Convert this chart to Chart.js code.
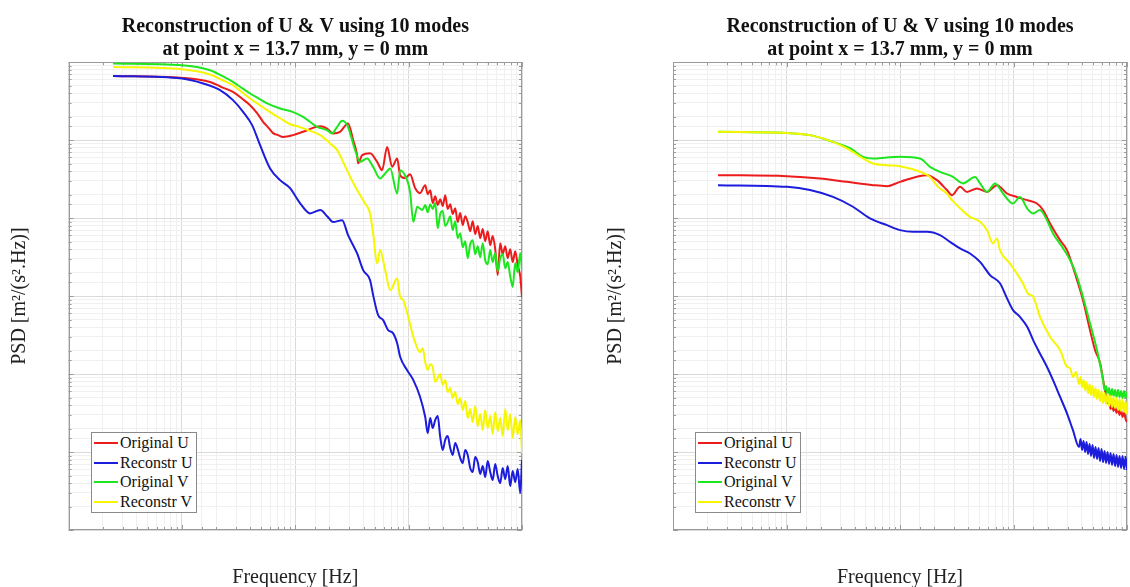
<!DOCTYPE html>
<html>
<head>
<meta charset="utf-8">
<script src="https://cdn.jsdelivr.net/npm/chart.js@4.4.0/dist/chart.umd.min.js"></script>
<style>
  html, body { margin: 0; padding: 0; background: #fff; }
  body { width: 1130px; height: 587px; position: relative; overflow: hidden; font-family: "Liberation Serif", "Times New Roman", serif; }
  canvas { position: absolute; top: 0; }
  #left-chart { left: 0; }
  #right-chart { left: 590px; }
  .legend { position: absolute; top: 432px; background: #fff; border: 1px solid #8a8a8a; padding: 0 4px 0 2px; font-size: 16px; line-height: 19.7px; color: #111; }
  .legend .row { display: flex; align-items: center; white-space: nowrap; }
  .legend .swatch { width: 24px; height: 2px; margin-right: 2px; }
</style>
</head>
<body>
<canvas id="left-chart" width="540" height="587"></canvas>
<canvas id="right-chart" width="540" height="587"></canvas>
<div class="legend" id="left-legend" style="left: 91px"></div>
<div class="legend" id="right-legend" style="left: 695px"></div>
<script>
// ---- Left panel ----
// frequencies where the high-frequency noise was read off
const leftNoiseFreq = [1400, 1473, 1550, 1630, 1715, 1805, 1899, 1998, 2102, 2211, 2326, 2448, 2575, 2709, 2850, 2999, 3155, 3319, 3492, 3674, 3866, 4067, 4279, 4502, 4736, 4983, 5243, 5516, 5803, 6105, 6423, 6758, 7110, 7480, 7870, 8280, 8711, 9165, 9642, 10000]

const leftFreqOrigU = [2.47, 10.0, 17.7, 22.4, 28.2, 34.0, 39.9, 46.0, 52.0, 57.8, 63.7, 70.5, 78.0, 95.7, 117, 166, 191, 216, 248, 292, 324, 351, 358, 389, 457, 527, 583, 646, 715, 792, 841, 931, 1030, 1140, 1260, ...leftNoiseFreq]
const leftPsdOrigU = [6.67e-4, 6.29e-4, 5.58e-4, 4.80e-4, 4.16e-4, 3.40e-4, 2.81e-4, 2.22e-4, 1.72e-4, 1.45e-4, 1.23e-4, 1.16e-4, 1.10e-4, 1.16e-4, 1.28e-4, 1.51e-4, 1.41e-4, 1.22e-4, 1.28e-4, 1.64e-4, 1.00e-4, 6.43e-5, 5.07e-5, 6.43e-5, 6.81e-5, 5.27e-5, 4.12e-5, 8.20e-5, 4.55e-5, 5.82e-5, 3.56e-5, 3.26e-5, 3.66e-5, 2.43e-5, 2.09e-5,
  2.65e-5, 2.03e-5, 2.28e-5, 1.56e-5, 1.91e-5, 1.47e-5, 1.75e-5, 1.43e-5, 1.97e-5, 1.31e-5, 1.51e-5, 1.13e-5, 1.34e-5, 8.89e-6, 1.16e-5, 8.14e-6, 1.06e-5, 8.89e-6, 6.81e-6, 9.15e-6, 6.24e-6, 7.90e-6, 5.54e-6, 7.23e-6, 5.07e-6, 6.81e-6, 4.50e-6, 5.88e-6, 4.00e-6, 1.86e-6, 4.78e-6, 3.45e-6, 4.37e-6, 3.07e-6, 4.00e-6, 2.73e-6, 3.77e-6, 2.50e-6, 1.80e-6, 9.71e-7]

const leftFreqReconU = [2.47, 10.0, 15.4, 21.7, 28.2, 34.6, 41.6, 48.9, 59.9, 73.4, 89.9, 110, 135, 166, 191, 216, 259, 292, 351, 397, 457, 486, 538, 596, 659, 730, 792, 841, 970, 1100, 1260, ...leftNoiseFreq]
const leftPsdReconU = [6.67e-4, 6.18e-4, 5.33e-4, 4.38e-4, 3.26e-4, 2.31e-4, 1.56e-4, 8.63e-5, 4.34e-5, 3.07e-5, 2.43e-5, 1.56e-5, 1.15e-5, 1.27e-5, 1.06e-5, 8.89e-6, 9.42e-6, 6.05e-6, 3.52e-6, 2.15e-6, 1.60e-6, 1.03e-6, 5.70e-7, 4.92e-7, 3.66e-7, 3.33e-7, 2.48e-7, 1.67e-7, 1.12e-7, 8.37e-8, 5.12e-8,
  2.81e-8, 1.75e-8, 2.73e-8, 2.03e-8, 2.57e-8, 2.89e-8, 1.56e-8, 1.06e-8, 1.43e-8, 1.60e-8, 1.13e-8, 9.15e-9, 1.31e-8, 1.09e-8, 8.38e-9, 7.23e-9, 1.06e-8, 9.15e-9, 6.24e-9, 5.54e-9, 8.63e-9, 7.44e-9, 5.22e-9, 6.61e-9, 4.78e-9, 7.67e-9, 5.54e-9, 4.37e-9, 7.02e-9, 4.92e-9, 4.00e-9, 6.24e-9, 4.50e-9, 6.61e-9, 3.66e-9, 5.71e-9, 4.12e-9, 6.05e-9, 2.98e-9, 7.90e-9]

const leftFreqOrigV = [2.47, 10.0, 17.7, 22.4, 28.2, 33.5, 39.9, 47.0, 56.4, 73.4, 95.7, 117, 156, 191, 211, 234, 259, 287, 305, 337, 373, 430, 486, 560, 621, 687, 792, 841, 970, 1030, 1100, 1190, 1320, ...leftNoiseFreq]
const leftPsdOrigV = [9.62e-4, 9.16e-4, 7.89e-4, 6.71e-4, 5.58e-4, 4.70e-4, 3.97e-4, 3.45e-4, 2.96e-4, 2.55e-4, 2.29e-4, 1.99e-4, 1.48e-4, 1.34e-4, 1.22e-4, 1.48e-4, 1.77e-4, 1.56e-4, 1.22e-4, 7.45e-5, 5.27e-5, 5.82e-5, 4.55e-5, 3.23e-5, 3.74e-5, 4.34e-5, 2.07e-5, 4.12e-5, 3.07e-5, 2.15e-5, 8.97e-6, 1.40e-5, 1.27e-5,
  1.47e-5, 1.19e-5, 1.51e-5, 1.31e-5, 1.56e-5, 7.44e-6, 1.13e-5, 1.23e-5, 7.90e-6, 8.89e-6, 1.06e-5, 7.02e-6, 9.15e-6, 5.54e-6, 6.42e-6, 4.24e-6, 5.07e-6, 3.07e-6, 4.64e-6, 5.22e-6, 3.45e-6, 4.37e-6, 3.16e-6, 4.78e-6, 2.89e-6, 2.57e-6, 3.89e-6, 2.73e-6, 3.56e-6, 2.09e-6, 3.07e-6, 3.45e-6, 2.28e-6, 2.73e-6, 1.80e-6, 1.31e-6, 2.65e-6, 2.03e-6, 3.56e-6, 2.15e-6]

const leftFreqReconV = [2.47, 10.0, 17.7, 22.4, 28.2, 33.5, 39.9, 47.0, 56.4, 73.4, 89.9, 110, 127, 166, 203, 234, 264, 305, 351, 413, 457, 486, 527, 560, 621, 687, 792, 841, 894, 991, 1100, 1260, 1330, ...leftNoiseFreq]
const leftPsdReconV = [8.71e-4, 8.13e-4, 6.95e-4, 5.95e-4, 5.07e-4, 4.18e-4, 3.43e-4, 2.91e-4, 2.43e-4, 1.91e-4, 1.60e-4, 1.47e-4, 1.36e-4, 1.16e-4, 9.08e-5, 7.45e-5, 5.27e-5, 3.38e-5, 2.29e-5, 1.54e-5, 1.15e-5, 6.37e-6, 2.62e-6, 3.89e-6, 2.15e-6, 1.19e-6, 1.69e-6, 9.80e-7, 8.89e-7, 5.43e-7, 3.01e-7, 1.91e-7, 2.15e-7,
  1.43e-7, 1.13e-7, 1.34e-7, 1.23e-7, 7.90e-8, 8.89e-8, 1.00e-7, 7.23e-8, 8.38e-8, 5.88e-8, 6.61e-8, 4.92e-8, 5.88e-8, 4.12e-8, 4.92e-8, 3.45e-8, 4.50e-8, 2.73e-8, 3.56e-8, 2.42e-8, 3.89e-8, 2.15e-8, 3.07e-8, 1.91e-8, 3.45e-8, 2.03e-8, 2.89e-8, 1.70e-8, 3.26e-8, 1.86e-8, 2.73e-8, 1.60e-8, 3.56e-8, 1.91e-8, 3.07e-8, 1.51e-8, 2.81e-8, 1.70e-8, 2.57e-8, 9.71e-9]

// ---- Right panel ----
// frequencies of the thick noisy band at the end of the curves
const rightBandFreq = [3780, 3897, 4017, 4141, 4269, 4401, 4537, 4678, 4822, 4971, 5125, 5283, 5447, 5615, 5788, 5967, 6152, 6342, 6538, 6740, 6949, 7163, 7385, 7613, 7848, 8091, 8341, 8599, 8865, 9139, 9421, 9712, 10000]

const rightFreqOrigU = [2.49, 10.1, 19.7, 34.1, 57.8, 76.8, 100, 173, 212, 259, 287, 338, 389, 477, 584, 716, 877, 1070, 1320, 1610, 1820, 2100, 2570, 2960, 3630, 4090, 4720, 5230, 5788, 6342, 6538, 6740, 6949, 7163, 7385, 7613, 7848, 8091, 8341, 8599, 8865, 9139, 9421, 9712, 10000]
const rightPsdOrigU = [3.56e-5, 3.45e-5, 3.23e-5, 2.92e-5, 2.65e-5, 2.57e-5, 2.92e-5, 3.56e-5, 3.07e-5, 2.29e-5, 1.97e-5, 2.52e-5, 2.17e-5, 2.40e-5, 2.17e-5, 2.65e-5, 2.07e-5, 1.87e-5, 1.70e-5, 1.54e-5, 1.27e-5, 8.55e-6, 5.22e-6, 3.89e-6, 1.60e-6, 8.89e-7, 3.66e-7, 2.03e-7, 1.39e-7,
  6.61e-8, 5.22e-8, 4.24e-8, 4.64e-8, 3.56e-8, 4.12e-8, 3.35e-8, 3.89e-8, 3.16e-8, 3.66e-8, 2.98e-8, 3.45e-8, 2.81e-8, 3.26e-8, 2.65e-8, 2.42e-8]

const rightFreqReconU = [2.49, 10.1, 16.1, 25.7, 38.5, 54.4, 76.8, 100, 130, 173, 225, 276, 338, 414, 507, 621, 760, 877, 990, 1140, 1320, 1490, 1710, 1970, 2230, 2570, 2960, 3340, ...rightBandFreq]
const rightPsdReconU = [2.65e-5, 2.52e-5, 2.29e-5, 1.87e-5, 1.40e-5, 9.91e-6, 8.13e-6, 7.02e-6, 6.67e-6, 6.67e-6, 6.05e-6, 4.97e-6, 4.09e-6, 3.52e-6, 2.75e-6, 1.86e-6, 1.46e-6, 9.35e-7, 6.62e-7, 5.43e-7, 4.04e-7, 2.73e-7, 1.84e-7, 1.24e-7, 8.37e-8, 5.12e-8, 3.13e-8, 1.91e-8,
  1.16e-8, 1.47e-8, 1.06e-8, 1.39e-8, 1.00e-8, 1.34e-8, 9.43e-9, 1.27e-8, 8.89e-9, 1.23e-8, 8.38e-9, 1.16e-8, 8.14e-9, 1.13e-8, 7.67e-9, 1.09e-8, 7.44e-9, 1.03e-8, 7.23e-9, 1.00e-8, 7.02e-9, 9.71e-9, 6.81e-9, 9.43e-9, 6.61e-9, 9.15e-9, 6.42e-9, 8.89e-9, 6.24e-9, 8.89e-9, 6.05e-9, 8.63e-9, 5.88e-9]

const rightFreqOrigV = [2.49, 10.1, 16.1, 25.7, 36.3, 47.2, 57.8, 76.8, 100, 150, 184, 225, 293, 359, 458, 507, 584, 687, 808, 990, 1140, 1320, 1490, 1710, 1970, 2230, 2680, 3150, 3630, 4090, 4720, 5440, 6152, 6342, 6538, 6740, 6949, 7163, 7385, 7613, 7848, 8091, 8341, 8599, 8865, 9139, 9421, 9712, 10000]
const rightPsdOrigV = [1.28e-4, 1.24e-4, 1.16e-4, 9.50e-5, 7.89e-5, 6.11e-5, 5.82e-5, 6.00e-5, 6.11e-5, 5.82e-5, 4.55e-5, 3.93e-5, 3.38e-5, 2.79e-5, 3.38e-5, 2.79e-5, 2.17e-5, 2.79e-5, 2.07e-5, 1.54e-5, 1.87e-5, 1.33e-5, 1.15e-5, 1.27e-5, 9.42e-6, 6.37e-6, 4.29e-6, 2.90e-6, 1.77e-6, 9.80e-7, 4.47e-7, 2.03e-7,
  8.38e-8, 6.24e-8, 7.02e-8, 5.54e-8, 6.61e-8, 5.22e-8, 6.42e-8, 5.22e-8, 6.24e-8, 5.07e-8, 6.24e-8, 5.07e-8, 6.05e-8, 4.92e-8, 6.05e-8, 4.92e-8, 5.88e-8]

const rightFreqReconV = [2.49, 10.1, 16.1, 25.7, 36.3, 47.2, 57.8, 76.8, 100, 150, 184, 216, 259, 287, 352, 414, 507, 584, 659, 716, 760, 931, 1070, 1210, 1340, 1490, 1710, 2100, 2570, 2960, 3150, 3340, 3560, ...rightBandFreq]
const rightPsdReconV = [1.28e-4, 1.24e-4, 1.16e-4, 9.50e-5, 7.45e-5, 5.82e-5, 5.02e-5, 4.77e-5, 4.64e-5, 3.93e-5, 3.38e-5, 2.52e-5, 2.07e-5, 1.70e-5, 1.27e-5, 1.04e-5, 8.97e-6, 7.02e-6, 4.74e-6, 5.50e-6, 3.89e-6, 2.62e-6, 1.95e-6, 1.46e-6, 1.08e-6, 9.80e-7, 5.43e-7, 3.01e-7, 2.03e-7, 1.24e-7, 1.19e-7, 9.15e-8, 1.06e-7,
  7.44e-8, 9.15e-8, 6.81e-8, 8.38e-8, 6.24e-8, 7.90e-8, 5.71e-8, 7.44e-8, 5.38e-8, 7.02e-8, 5.07e-8, 6.61e-8, 4.78e-8, 6.24e-8, 4.50e-8, 6.05e-8, 4.24e-8, 5.71e-8, 4.12e-8, 5.54e-8, 3.89e-8, 5.22e-8, 3.77e-8, 5.07e-8, 3.66e-8, 4.92e-8, 3.45e-8, 4.78e-8, 3.35e-8, 4.64e-8, 3.26e-8, 4.50e-8, 3.07e-8]

// Axis ranges (the picture has no tick labels)
const freqRange = [1, 10000]
const psdRange = [1e-9, 1e-3]

const seriesLabels = ["Original U", "Reconstr U", "Original V", "Reconstr V"]
const seriesColors = ["#ec1c1c", "#1c1cdc", "#1ee61e", "#f6f600"]
const titleLines = ["Reconstruction of U & V using 10 modes", "at point x = 13.7 mm, y = 0 mm"]

const SERIF = '"Liberation Serif", "Times New Roman", serif'

const isDecade = (v) => Math.abs(Math.log10(v) - Math.round(Math.log10(v))) < 1e-6

const gridColor = (ctx) => {
  if (!ctx.tick) return "#e4e4e4"
  return isDecade(ctx.tick.value) ? "#dadada" : "#f0f0f0"
}

// Box round the plot area plus small inward ticks, like Matlab axes
const axesBox = {
  id: "axesBox",
  beforeDatasetsDraw(chart) {
    const { ctx, chartArea: a, scales } = chart
    ctx.save()
    ctx.strokeStyle = "#9a9a9a"
    ctx.lineWidth = 1
    ctx.beginPath()
    scales.x.ticks.forEach((t) => {
      const px = Math.round(scales.x.getPixelForValue(t.value)) + 0.5
      const len = isDecade(t.value) ? 5 : 3
      ctx.moveTo(px, a.bottom)
      ctx.lineTo(px, a.bottom - len)
      ctx.moveTo(px, a.top)
      ctx.lineTo(px, a.top + len)
    })
    scales.y.ticks.forEach((t) => {
      const py = Math.round(scales.y.getPixelForValue(t.value)) + 0.5
      const len = isDecade(t.value) ? 5 : 3
      ctx.moveTo(a.left, py)
      ctx.lineTo(a.left + len, py)
      ctx.moveTo(a.right, py)
      ctx.lineTo(a.right - len, py)
    })
    ctx.stroke()
    ctx.strokeRect(Math.round(a.left) + 0.5, Math.round(a.top) + 0.5, Math.round(a.width) - 1, Math.round(a.height) - 1)
    ctx.restore()
  },
}

function makePanel(canvasId, series, yWidth, yTitlePad, padRight) {
  return new Chart(document.getElementById(canvasId), {
    type: "line",
    data: {
      datasets: series.map((s, i) => ({
        label: seriesLabels[i],
        data: s.freq.map((f, k) => ({ x: f, y: s.psd[k] })),
        borderColor: seriesColors[i],
        borderWidth: 2,
        borderJoinStyle: "round",
        pointRadius: 0,
        fill: false,
        cubicInterpolationMode: "monotone",
        order: series.length - i,
      })),
    },
    options: {
      responsive: false,
      animation: false,
      events: [],
      layout: { padding: { left: 0, right: padRight, top: 0, bottom: 0 } },
      plugins: {
        legend: { display: false },
        tooltip: { enabled: false },
        title: {
          display: true,
          text: titleLines,
          fullSize: false,
          color: "#111",
          font: { family: SERIF, size: 20, weight: "bold", lineHeight: 1.12 },
          padding: { top: 16, bottom: 1.4 },
        },
      },
      scales: {
        x: {
          type: "logarithmic",
          min: freqRange[0],
          max: freqRange[1],
          ticks: { display: false, autoSkip: false },
          grid: { color: gridColor, drawTicks: false },
          border: { display: false },
          title: {
            display: true,
            text: "Frequency [Hz]",
            color: "#222",
            font: { family: SERIF, size: 20, lineHeight: 0.9 },
            padding: { top: 0, bottom: 0 },
          },
          afterFit: (scale) => {
            scale.height = 57
          },
        },
        y: {
          type: "logarithmic",
          min: psdRange[0],
          max: psdRange[1],
          ticks: { display: false, autoSkip: false },
          grid: { color: gridColor, drawTicks: false },
          border: { display: false },
          title: {
            display: true,
            text: "PSD [m²/(s².Hz)]",
            color: "#222",
            font: { family: SERIF, size: 20, lineHeight: 1 },
            padding: { top: yTitlePad, bottom: 0 },
          },
          afterFit: (scale) => {
            scale.width = yWidth
          },
        },
      },
    },
    plugins: [axesBox],
  })
}

function makeLegend(id) {
  const box = document.getElementById(id)
  seriesLabels.forEach((label, i) => {
    const row = document.createElement("div")
    row.className = "row"
    const sw = document.createElement("span")
    sw.className = "swatch"
    sw.style.background = seriesColors[i]
    const txt = document.createElement("span")
    txt.textContent = label
    row.appendChild(sw)
    row.appendChild(txt)
    box.appendChild(row)
  })
}

makePanel("left-chart", [
  { freq: leftFreqOrigU, psd: leftPsdOrigU },
  { freq: leftFreqReconU, psd: leftPsdReconU },
  { freq: leftFreqOrigV, psd: leftPsdOrigV },
  { freq: leftFreqReconV, psd: leftPsdReconV },
], 68.6, 10, 18)

makePanel("right-chart", [
  { freq: rightFreqOrigU, psd: rightPsdOrigU },
  { freq: rightFreqReconU, psd: rightPsdReconU },
  { freq: rightFreqOrigV, psd: rightPsdOrigV },
  { freq: rightFreqReconV, psd: rightPsdReconV },
], 83, 16, 3)

makeLegend("left-legend")
makeLegend("right-legend")
</script>
</body>
</html>
